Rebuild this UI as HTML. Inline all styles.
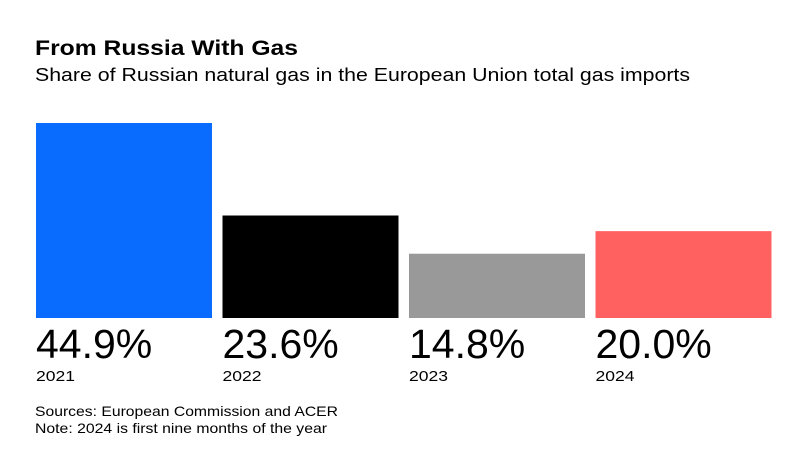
<!DOCTYPE html>
<html><head><meta charset="utf-8"><style>
html,body{margin:0;padding:0;background:#fff;width:800px;height:468px;overflow:hidden;font-family:"Liberation Sans",sans-serif;}
</style></head><body>
<svg width="800" height="468" xmlns="http://www.w3.org/2000/svg" font-family="Liberation Sans, sans-serif">
<text x="35" y="55" font-size="21" font-weight="bold" fill="#000" textLength="263" lengthAdjust="spacingAndGlyphs">From Russia With Gas</text>
<text x="35" y="81" font-size="18" fill="#000" textLength="655" lengthAdjust="spacingAndGlyphs">Share of Russian natural gas in the European Union total gas imports</text>
<g id="bars"></g>
<text x="35" y="416" font-size="14" fill="#000" textLength="303" lengthAdjust="spacingAndGlyphs">Sources: European Commission and ACER</text>
<text x="35" y="433" font-size="14" fill="#000" textLength="292" lengthAdjust="spacingAndGlyphs">Note: 2024 is first nine months of the year</text>
</svg>
<script>
const categories = ["2021","2022","2023","2024"];
const values = [44.9, 23.6, 14.8, 20.0];
const valueLabels = ["44.9%","23.6%","14.8%","20.0%"];
const colors = ["#0a6cff","#000000","#999999","#ff6161"];
const baseY = 318, maxH = 195, maxV = 44.9;
const x0 = 36, bw = 176, gap = 10.5;
function yScale(v){ return baseY - v / maxV * maxH; }
function xScale(i){ return x0 + i * (bw + gap); }
const g = document.getElementById('bars');
const NS = 'http://www.w3.org/2000/svg';
categories.forEach((c, i) => {
  const r = document.createElementNS(NS, 'rect');
  r.setAttribute('x', xScale(i));
  r.setAttribute('y', yScale(values[i]));
  r.setAttribute('width', bw);
  r.setAttribute('height', baseY - yScale(values[i]));
  r.setAttribute('fill', colors[i]);
  
  
  g.appendChild(r);
  const t = document.createElementNS(NS, 'text');
  t.setAttribute('x', xScale(i));
  t.setAttribute('y', 358);
  t.setAttribute('font-size', '41');
  t.setAttribute('fill', '#000');
  t.textContent = valueLabels[i];
  
  
  g.appendChild(t);
  const y = document.createElementNS(NS, 'text');
  y.setAttribute('x', xScale(i));
  y.setAttribute('y', 381);
  y.setAttribute('font-size', '15');
  y.setAttribute('fill', '#000');
  y.setAttribute('textLength', '39');
  y.setAttribute('lengthAdjust', 'spacingAndGlyphs');
  y.textContent = c;
  
  
  g.appendChild(y);
});
</script>
</body></html>
